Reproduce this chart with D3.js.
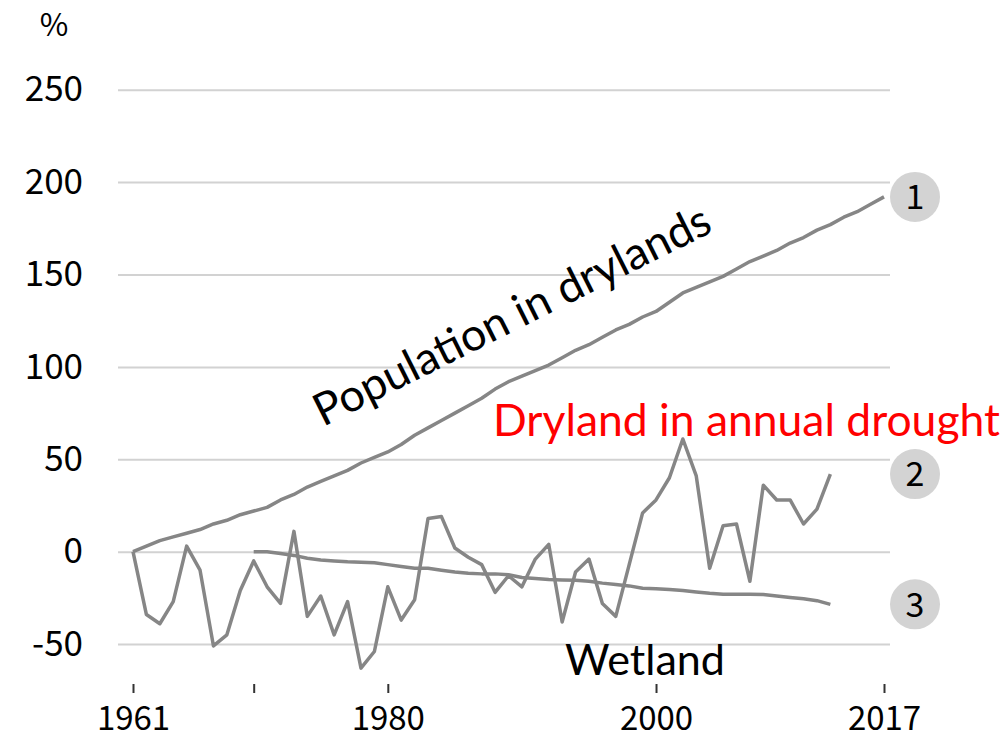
<!DOCTYPE html>
<html>
<head>
<meta charset="utf-8">
<script src="https://cdnjs.cloudflare.com/ajax/libs/d3/7.8.5/d3.min.js"></script>
<style>
body { margin: 0; background: #fff; }
svg { display: block; }
.axis text { font-family: "Noto Sans CJK JP", "Noto Sans", sans-serif; font-size: 35px; fill: #000; }
.note { font-family: Lato, "Noto Sans", sans-serif; }
</style>
</head>
<body>
<script>
// % change since 1961
var popStart = 1961;
var population = [0, 3, 6, 8, 10, 12, 15, 17, 20, 22,
  24, 28, 31, 35, 38, 41, 44, 48, 51, 54,
  58, 63, 67, 71, 75, 79, 83, 88, 92, 95,
  98, 101, 105, 109, 112, 116, 120, 123, 127, 130,
  135, 140, 143, 146, 149, 153, 157, 160, 163, 167,
  170, 174, 177, 181, 184, 188, 192];

var droughtStart = 1961;
var drought = [0, -34, -39, -27, 3, -10, -51, -45, -21, -5,
  -19, -28, 11, -35, -24, -45, -27, -63, -54, -19,
  -37, -26, 18, 19, 2, -3, -7, -22, -13, -19,
  -4, 4, -38, -11, -4, -28, -35, -7, 21, 28,
  40, 61, 41, -9, 14, 15, -16, 36, 28, 28,
  15, 23, 42];

var wetStart = 1970;
var wetland = [0, 0, -1, -2, -3.5, -4.5, -5, -5.5, -5.7, -6,
  -7, -8, -9, -9, -10, -11, -11.7, -12, -12, -12.5,
  -14, -14.5, -15, -15.3, -15.5, -16, -17, -17.8, -18.5, -19.8,
  -20, -20.5, -21, -21.8, -22.5, -23, -23, -23, -23.2, -24,
  -24.8, -25.5, -26.5, -28.5];

var yTicks = [250, 200, 150, 100, 50, 0, -50];
var xTicks = [1961, 1970, 1980, 2000, 2017];
var xLabels = [1961, 1980, 2000, 2017];

var width = 1007, height = 741;

var svg = d3.select("body").append("svg")
  .attr("width", width).attr("height", height);

var x = d3.scaleLinear().domain([1961, 2017]).range([133, 884]);
var y = d3.scaleLinear().domain([-50, 250]).range([644.1, 89.7]);

var gridLeft = 118, gridRight = 890;

// y axis with gridlines
var yAxis = svg.append("g")
  .attr("class", "axis y")
  .attr("transform", "translate(" + gridLeft + ",0)")
  .call(d3.axisLeft(y).tickValues(yTicks)
    .tickSize(-(gridRight - gridLeft)).tickPadding(35)
    .tickFormat(function(d){ return String(d); }));
yAxis.select(".domain").remove();
yAxis.selectAll("line").attr("stroke", "#d2d2d2").attr("stroke-width", 2);

svg.append("text")
  .attr("x", 54).attr("y", 36)
  .attr("text-anchor", "middle")
  .style("font-family", "\"Noto Sans CJK JP\", \"Noto Sans\", sans-serif")
  .style("font-size", "31px")
  .text("%");

// x axis
var xAxis = svg.append("g")
  .attr("class", "axis x")
  .attr("transform", "translate(0,684)")
  .call(d3.axisBottom(x).tickValues(xTicks).tickSize(9).tickPadding(14)
    .tickFormat(function(d){ return xLabels.indexOf(d) >= 0 ? String(d) : ""; }));
xAxis.select(".domain").remove();
xAxis.selectAll("line").attr("stroke", "#333").attr("stroke-width", 2);
xAxis.selectAll("text").style("font-size", "33px");

// series lines
function lineFor(start) {
  return d3.line()
    .x(function(d, i){ return x(start + i); })
    .y(function(d){ return y(d); });
}

var series = [
  {values: population, start: popStart, num: "1"},
  {values: drought, start: droughtStart, num: "2"},
  {values: wetland, start: wetStart, num: "3"}
];

svg.selectAll("path.series").data(series).enter()
  .append("path")
  .attr("class", "series")
  .attr("fill", "none")
  .attr("stroke", "#868686")
  .attr("stroke-width", 3.5)
  .attr("stroke-linejoin", "round")
  .attr("d", function(d){ return lineFor(d.start)(d.values); });

// numbered markers
var marks = svg.selectAll("g.mark").data(series).enter()
  .append("g").attr("class", "mark")
  .attr("transform", function(d){
    return "translate(915," + y(d.values[d.values.length - 1]) + ")";
  });
marks.append("circle").attr("r", 25).attr("fill", "#d3d3d3");
marks.append("text")
  .attr("text-anchor", "middle")
  .attr("dy", "0.36em")
  .style("font-family", "\"Noto Sans CJK JP\", \"Noto Sans\", sans-serif")
  .style("font-size", "34px")
  .text(function(d){ return d.num; });

// annotations, sized to the span they cover
function note(txt, color, px, py, span, angle) {
  var t = svg.append("text")
    .attr("class", "note")
    .attr("fill", color)
    .style("font-size", "40px")
    .attr("transform", "translate(" + px + "," + py + ") rotate(" + angle + ")")
    .text(txt);
  var len = t.node().getComputedTextLength();
  t.style("font-size", (40 * span / len) + "px");
}

note("Population in drylands", "#000", 323, 427, 438, -26.6);
note("Dryland in annual drought", "#ff0000", 493, 436, 507, 0);
note("Wetland", "#000", 565, 675, 160, 0);
</script>
</body>
</html>
